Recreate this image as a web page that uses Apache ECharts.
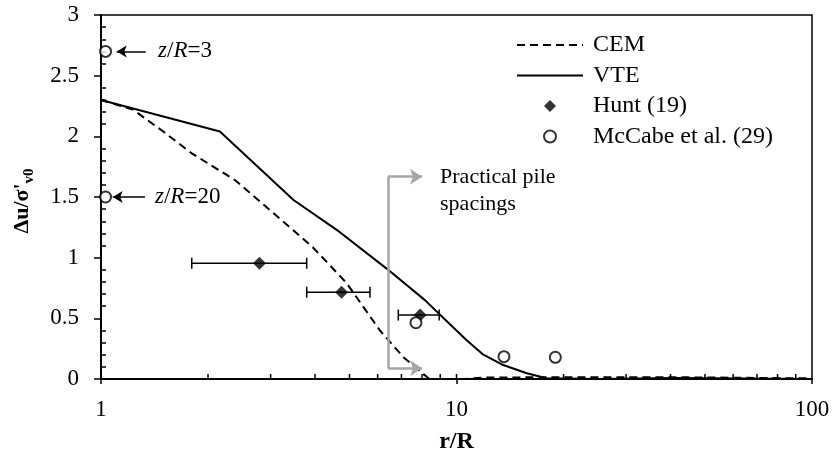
<!DOCTYPE html>
<html>
<head>
<meta charset="utf-8">
<script src="https://cdn.jsdelivr.net/npm/echarts@6/dist/echarts.min.js"></script>
<style>
html,body{margin:0;padding:0;background:#fff;}
#chart{width:835px;height:461px;}
</style>
</head>
<body>
<div id="chart"></div>
<script>
// ---- data ----
const cemR = [1, 1.23, 1.48, 1.8, 2.38, 3.22, 3.96, 4.91, 6.09, 7.09, 8.07, 8.4, 10.5, 12, 20, 40, 100];
const cemV = [2.3, 2.22, 2.05, 1.86, 1.64, 1.31, 1.08, 0.79, 0.40, 0.18, 0.04, 0, 0, 0.012, 0.015, 0.015, 0.005];

const vteR = [1, 2.16, 3.48, 4.7, 6.36, 8.15, 8.99, 10.68, 11.9, 13.54, 15.76, 17.94, 25, 41, 100];
const vteV = [2.3, 2.04, 1.475, 1.21, 0.91, 0.65, 0.53, 0.32, 0.2, 0.115, 0.047, 0.006, 0, 0.008, 0];

const huntR = [2.79, 4.75, 7.90];
const huntV = [0.954, 0.715, 0.527];
const huntLow = [1.80, 3.79, 6.86];
const huntHigh = [3.79, 5.71, 8.94];

const mcR = [1.03, 1.03, 7.69, 13.6, 18.97];
const mcV = [2.7, 1.5, 0.464, 0.184, 0.179];

const xTickLabels = [1, 10, 100];
const xMinorTicks = [2,3,4,5,6,7,8,9,10,20,30,40,50,60,70,80,90];
const yMin = 0, yMax = 3, yStep = 0.5;

const FONT = '"Liberation Serif","Times New Roman",serif';
const zip = (a, b) => a.map((v, i) => [v, b[i]]);

const chart = echarts.init(document.getElementById('chart'));
const tickStyle = {stroke:'#000', lineWidth:1.5};
const hideSym = {opacity:0, color:'transparent', borderColor:'transparent'};

const option = {
  animation: false,
  backgroundColor: '#fff',
  textStyle: {fontFamily: FONT, color:'#000'},
  grid: {left:101, right:23, top:15, bottom:82, show:true, borderColor:'#000', borderWidth:1.5},
  legend: {
    data: [
      {name:'CEM', itemStyle:hideSym},
      {name:'VTE', itemStyle:hideSym},
      {name:'Hunt (19)', icon:'path://M6,0L12,6L6,12L0,6Z', symbolKeepAspect:true},
      {name:'McCabe et al. (29)'}
    ],
    orient:'vertical', left:516, top:33, itemGap:6.5, padding:0,
    itemWidth:66, itemHeight:12, symbolKeepAspect:true,
    textStyle:{fontFamily:FONT, fontSize:24, color:'#000', lineHeight:22, padding:[0,0,0,5]},
    selectedMode:false
  },
  xAxis: [{
    type:'log', logBase:10, min:1, max:100,
    name:'r/R', nameLocation:'middle', nameGap:51,
    nameTextStyle:{fontFamily:FONT, fontSize:24, fontWeight:'bold', color:'#000'},
    axisLine:{lineStyle:{color:'#000', width:2}},
    axisTick:{show:true, inside:false, length:5, lineStyle:{color:'#000', width:1.5}},
    axisLabel:{fontFamily:FONT, fontSize:23, color:'#000', margin:19,
      formatter: v => (xTickLabels.indexOf(Math.round(v)) >= 0 ? String(Math.round(v)) : '')},
    splitLine:{show:false}
  }],
  yAxis: [{
    type:'value', min:yMin, max:yMax, interval:yStep,
    name:'{a|Δu/σ\'}{s|v0}', nameLocation:'middle', nameGap:64, nameRotate:90,
    nameTextStyle:{
      padding:[0,8,0,0],
      rich:{
        a:{fontFamily:FONT, fontSize:22, fontWeight:'bold', color:'#000'},
        s:{fontFamily:FONT, fontSize:15, fontWeight:'bold', color:'#000', padding:[14,0,0,0]}
      }
    },
    axisLine:{show:true, lineStyle:{color:'#000', width:2}},
    axisTick:{show:true, inside:false, length:7, lineStyle:{color:'#000', width:1.5}},
    axisLabel:{fontFamily:FONT, fontSize:23, color:'#000', margin:22},
    splitLine:{show:false}
  },{
    type:'value', min:yMin, max:yMax, interval:yStep, position:'left',
    axisLine:{show:false}, axisLabel:{show:false},
    axisTick:{show:false, inside:true},
    minorTick:{show:true, splitNumber:5, length:5, lineStyle:{color:'#000', width:1.5}},
    splitLine:{show:false}, minorSplitLine:{show:false}
  }],
  series: [
    {
      name:'CEM', type:'line', data: zip(cemR, cemV), symbol:'none', z:3,
      lineStyle:{color:'#000', width:2, type:[8,5]}, itemStyle:{color:'#000'}
    },
    {
      name:'VTE', type:'line', data: zip(vteR, vteV), symbol:'none', z:3,
      lineStyle:{color:'#000', width:2, type:'solid'}, itemStyle:{color:'#000'}
    },
    {
      name:'errbar', type:'custom', silent:true, z:4,
      data: huntR.map((r, i) => [huntLow[i], huntHigh[i], huntV[i]]),
      encode:{x:[0,1], y:2},
      renderItem: (params, api) => {
        const y = api.value(2);
        const a = api.coord([api.value(0), y]);
        const b = api.coord([api.value(1), y]);
        const h = 5.5;
        return {type:'group', children:[
          {type:'line', shape:{x1:a[0], y1:a[1], x2:b[0], y2:b[1]}, style:tickStyle},
          {type:'line', shape:{x1:a[0], y1:a[1]-h, x2:a[0], y2:a[1]+h}, style:tickStyle},
          {type:'line', shape:{x1:b[0], y1:b[1]-h, x2:b[0], y2:b[1]+h}, style:tickStyle}
        ]};
      }
    },
    {
      name:'Hunt (19)', type:'scatter', data: zip(huntR, huntV), z:5,
      symbol:'diamond', symbolSize:13, itemStyle:{color:'#000'}
    },
    {
      name:'McCabe et al. (29)', type:'scatter', data: zip(mcR, mcV), z:5,
      symbol:'circle', symbolSize:11,
      itemStyle:{color:'#fff', borderColor:'#000', borderWidth:2}
    },
    {
      name:'xticks', type:'custom', silent:true, z:6,
      data: xMinorTicks.map(v => [v]),
      encode:{x:0},
      renderItem: (params, api) => {
        const p = api.coord([api.value(0), 0]);
        return {type:'line', shape:{x1:p[0], y1:p[1], x2:p[0], y2:p[1]-5}, style:tickStyle};
      }
    },
    {
      name:'annot', type:'line', data:[], silent:true,
      markLine:{
        silent:true, animation:false,
        label:{show:false},
        data:[
          [{coord:[1.336,2.7], symbol:'none'},{coord:[1.107,2.7], symbol:'arrow', symbolSize:[9,10]}],
          [{coord:[1.33,1.5], symbol:'none'},{coord:[1.079,1.5], symbol:'arrow', symbolSize:[9,10]}]
        ],
        lineStyle:{color:'#000', width:1.5, type:'solid'}
      },
      markPoint:{
        silent:true, symbol:'circle', symbolSize:0,
        itemStyle:{color:'transparent'},
        label:{show:true, position:'right', distance:0, color:'#000', fontFamily:FONT, fontSize:23,
          rich:{i:{fontFamily:FONT, fontSize:23, fontStyle:'italic', color:'#000'},
                n:{fontFamily:FONT, fontSize:23, color:'#000'}}},
        data:[
          {coord:[1.447,2.7], value:0, label:{formatter:'{i|z}{n|/}{i|R}{n|=3}'}},
          {coord:[1.419,1.5], value:0, label:{formatter:'{i|z}{n|/}{i|R}{n|=20}'}},
          {coord:[8.99,1.553], value:0, label:{formatter:'Practical pile\nspacings', fontSize:22, lineHeight:27}}
        ]
      }
    },
    {
      name:'bracket', type:'line', data:[], silent:true,
      markLine:{
        silent:true, animation:false,
        label:{show:false},
        lineStyle:{color:'#a6a6a6', width:2.5, type:'solid'},
        data:[
          [{coord:[6.42,1.667], symbol:'none'},{coord:[8.0,1.667], symbol:'arrow', symbolSize:[12,12]}],
          [{coord:[6.42,1.667], symbol:'none'},{coord:[6.42,0.088], symbol:'none'}],
          [{coord:[6.42,0.088], symbol:'none'},{coord:[8.0,0.088], symbol:'arrow', symbolSize:[12,12]}]
        ]
      }
    }
  ]
};
chart.setOption(option);
</script>
</body>
</html>
